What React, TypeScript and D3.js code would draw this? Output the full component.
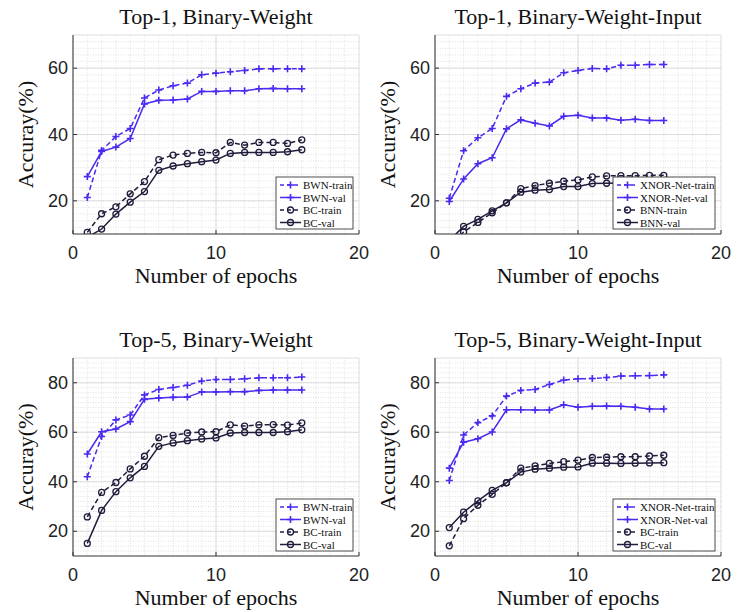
import React from 'react'
import * as d3 from 'd3'

// epochs on the x axis
const epochs = [1, 2, 3, 4, 5, 6, 7, 8, 9, 10, 11, 12, 13, 14, 15, 16]

// Top-1, Binary-Weight
const t1BwnTrain = [21.0, 35.2, 39.4, 41.8, 51.0, 53.4, 54.7, 55.5, 58.0, 58.5, 58.9, 59.3, 59.8, 59.8, 59.8, 59.8]
const t1BwnVal = [27.3, 34.9, 36.2, 38.8, 49.2, 50.3, 50.4, 50.7, 53.0, 53.0, 53.2, 53.2, 53.8, 53.9, 53.8, 53.8]
const t1BcTrain = [10.5, 16.1, 18.2, 22.1, 25.8, 32.4, 33.8, 34.3, 34.6, 34.5, 37.6, 36.8, 37.6, 37.6, 37.3, 38.4]
const t1BcVal = [9.0, 11.5, 16.0, 19.6, 22.8, 29.2, 30.5, 31.2, 31.8, 32.3, 34.3, 34.6, 34.6, 34.6, 34.8, 35.4]

// Top-1, Binary-Weight-Input
const t1XnorTrain = [20.8, 35.1, 39.0, 41.8, 51.5, 53.8, 55.5, 55.8, 58.6, 59.3, 59.9, 59.8, 60.9, 60.9, 61.1, 61.1]
const t1XnorVal = [19.8, 26.6, 31.2, 33.0, 41.7, 44.4, 43.4, 42.6, 45.5, 45.8, 45.0, 45.0, 44.3, 44.6, 44.2, 44.2]
const t1BnnTrain = [6.0, 10.6, 13.5, 16.4, 19.4, 23.7, 24.6, 25.3, 25.9, 26.3, 27.2, 27.5, 27.6, 27.6, 27.7, 27.7]
const t1BnnVal = [8.0, 12.3, 14.4, 17.0, 19.4, 22.6, 23.2, 23.4, 24.3, 24.3, 25.2, 25.3, 25.4, 25.5, 25.5, 25.5]

// Top-5, Binary-Weight
const t5BwnTrain = [42.0, 58.3, 65.0, 67.0, 75.1, 77.3, 78.1, 79.0, 80.7, 81.3, 81.3, 81.6, 82.0, 82.0, 82.0, 82.3]
const t5BwnVal = [51.2, 60.2, 61.3, 64.3, 73.3, 73.8, 74.1, 74.2, 76.3, 76.3, 76.4, 76.4, 76.9, 77.1, 77.1, 77.1]
const t5BcTrain = [25.8, 35.7, 39.7, 45.2, 50.3, 57.8, 58.7, 59.7, 60.1, 60.2, 63.0, 62.5, 63.0, 63.1, 62.9, 63.8]
const t5BcVal = [15.1, 28.4, 36.0, 41.6, 46.2, 54.3, 55.7, 56.6, 57.3, 57.7, 59.7, 59.9, 59.9, 59.9, 60.2, 61.0]

// Top-5, Binary-Weight-Input
const t5XnorTrain = [40.5, 58.9, 63.9, 66.6, 74.6, 76.9, 77.3, 79.3, 81.1, 81.6, 81.7, 82.1, 82.7, 82.8, 82.9, 83.2]
const t5XnorVal = [45.5, 56.0, 57.4, 60.1, 69.1, 69.1, 69.0, 69.0, 71.1, 70.1, 70.5, 70.6, 70.5, 70.1, 69.4, 69.4]
const t5BcBwiTrain = [14.1, 25.1, 30.5, 34.9, 39.6, 45.5, 46.4, 47.4, 48.1, 48.7, 49.8, 49.9, 50.1, 50.1, 50.4, 50.7]
const t5BcBwiVal = [21.5, 27.7, 32.3, 36.5, 39.6, 43.9, 45.1, 45.5, 45.9, 46.0, 47.5, 47.5, 47.4, 47.5, 47.6, 47.7]

const xTicks = [0, 10, 20]
const top1Ticks = [20, 40, 60]
const top5Ticks = [20, 40, 60, 80]

const BLUE = '#4a2af0'
const DARK = '#201c3c'
const SERIF = '"Liberation Serif", "Times New Roman", serif'
const SANS = '"Liberation Sans", Arial, sans-serif'

type Series = { name: string; values: number[]; color: string; dashed: boolean; marker: 'plus' | 'circle' }

const mk = (names: string[], vals: number[][]): Series[] =>
	names.map((name, i) => ({
		name,
		values: vals[i],
		color: i < 2 ? BLUE : DARK,
		dashed: i % 2 === 0,
		marker: i < 2 ? 'plus' : 'circle',
	}))

const Marker = ({ kind, x, y, color }: { kind: string; x: number; y: number; color: string }) =>
	kind === 'plus' ? (
		<path d={`M${x - 3.5},${y}H${x + 3.5}M${x},${y - 3.5}V${y + 3.5}`} stroke={color} strokeWidth={1.6} />
	) : (
		<circle cx={x} cy={y} r={3} fill="none" stroke={color} strokeWidth={1.3} />
	)

type PanelProps = {
	id: string
	title: string
	left: number
	top: number
	width: number
	height: number
	yDomain: [number, number]
	yTicks: number[]
	series: Series[]
	legendWidth: number
}

const Panel = ({ id, title, left, top, width, height, yDomain, yTicks, series, legendWidth }: PanelProps) => {
	const x = d3.scaleLinear().domain([0, 20]).range([left, left + width])
	const y = d3.scaleLinear().domain(yDomain).range([top + height, top])
	const bottom = top + height
	const right = left + width
	const minorX = d3.range(1, 20)
	const minorY = d3.range(yDomain[0] + 2, yDomain[1], 2)
	const line = d3
		.line<number>()
		.x((_, i) => x(epochs[i]))
		.y((d) => y(d))

	const lgH = 52
	const lgX = right - 6 - legendWidth
	const lgY = bottom - 5 - lgH

	return (
		<g>
			<defs>
				<clipPath id={id}>
					<rect x={left} y={top} width={width} height={height} />
				</clipPath>
			</defs>
			{/* grid */}
			{minorX.map((v) => (
				<line key={'mx' + v} x1={x(v)} x2={x(v)} y1={top} y2={bottom} stroke="#cfcfcf" strokeWidth={0.6} strokeDasharray="1,1.5" />
			))}
			{minorY.map((v) => (
				<line key={'my' + v} x1={left} x2={right} y1={y(v)} y2={y(v)} stroke="#cfcfcf" strokeWidth={0.6} strokeDasharray="1,1.5" />
			))}
			{xTicks.map((v) => (
				<line key={'gx' + v} x1={x(v)} x2={x(v)} y1={top} y2={bottom} stroke="#d6d6d6" strokeWidth={0.8} />
			))}
			{yTicks.map((v) => (
				<line key={'gy' + v} x1={left} x2={right} y1={y(v)} y2={y(v)} stroke="#d6d6d6" strokeWidth={0.8} />
			))}
			<line x1={left} x2={right} y1={top} y2={top} stroke="#d6d6d6" strokeWidth={0.8} />
			{/* axes */}
			<line x1={left} x2={left} y1={top} y2={bottom} stroke="#333" strokeWidth={1} />
			<line x1={left} x2={right} y1={bottom} y2={bottom} stroke="#333" strokeWidth={1} />
			{yTicks.map((v) => (
				<g key={'ty' + v}>
					<line x1={left} x2={left + 4} y1={y(v)} y2={y(v)} stroke="#333" />
					<text x={left - 5} y={y(v) + 6} textAnchor="end" fontFamily={SANS} fontSize={18} fill="#222">
						{v}
					</text>
				</g>
			))}
			{xTicks.map((v) => (
				<g key={'tx' + v}>
					<line x1={x(v)} x2={x(v)} y1={bottom} y2={bottom - 4} stroke="#333" />
					<text x={x(v)} y={bottom + 25} textAnchor="middle" fontFamily={SANS} fontSize={18} fill="#222">
						{v}
					</text>
				</g>
			))}
			<text x={(left + right) / 2} y={top - 11} textAnchor="middle" fontFamily={SERIF} fontSize={22} fill="#111">
				{title}
			</text>
			<text x={(left + right) / 2} y={bottom + 49} textAnchor="middle" fontFamily={SERIF} fontSize={22} fill="#111">
				Number of epochs
			</text>
			<text
				transform={`translate(${left - 40},${(top + bottom) / 2}) rotate(-90)`}
				textAnchor="middle"
				fontFamily={SERIF}
				fontSize={22}
				fill="#111"
			>
				Accuray(%)
			</text>
			{/* series */}
			<g clipPath={`url(#${id})`}>
				{series.map((s) => (
					<g key={s.name}>
						<path d={line(s.values) || ''} fill="none" stroke={s.color} strokeWidth={1.5} strokeDasharray={s.dashed ? '5,3' : undefined} />
						{s.values.map((v, i) => (
							<Marker key={i} kind={s.marker} x={x(epochs[i])} y={y(v)} color={s.color} />
						))}
					</g>
				))}
			</g>
			{/* legend */}
			<rect x={lgX} y={lgY} width={legendWidth} height={lgH} fill="white" stroke="#222" strokeWidth={0.8} />
			{series.map((s, i) => {
				const ly = lgY + 8 + i * 12.5
				return (
					<g key={'lg' + s.name}>
						<line x1={lgX + 4} x2={lgX + 25} y1={ly} y2={ly} stroke={s.color} strokeWidth={1.5} strokeDasharray={s.dashed ? '4,3' : undefined} />
						<Marker kind={s.marker} x={lgX + 14.5} y={ly} color={s.color} />
						<text x={lgX + 27} y={ly + 4} fontFamily={SERIF} fontSize={11} fill="#111">
							{s.name}
						</text>
					</g>
				)
			})}
		</g>
	)
}

const App = () => {
	const panels: PanelProps[] = [
		{
			id: 'c1',
			title: 'Top-1, Binary-Weight',
			left: 73,
			top: 35,
			width: 286,
			height: 199,
			yDomain: [10, 70],
			yTicks: top1Ticks,
			series: mk(['BWN-train', 'BWN-val', 'BC-train', 'BC-val'], [t1BwnTrain, t1BwnVal, t1BcTrain, t1BcVal]),
			legendWidth: 77,
		},
		{
			id: 'c2',
			title: 'Top-1, Binary-Weight-Input',
			left: 435,
			top: 35,
			width: 286,
			height: 199,
			yDomain: [10, 70],
			yTicks: top1Ticks,
			series: mk(['XNOR-Net-train', 'XNOR-Net-val', 'BNN-train', 'BNN-val'], [t1XnorTrain, t1XnorVal, t1BnnTrain, t1BnnVal]),
			legendWidth: 102,
		},
		{
			id: 'c3',
			title: 'Top-5, Binary-Weight',
			left: 73,
			top: 358,
			width: 286,
			height: 198,
			yDomain: [10, 90],
			yTicks: top5Ticks,
			series: mk(['BWN-train', 'BWN-val', 'BC-train', 'BC-val'], [t5BwnTrain, t5BwnVal, t5BcTrain, t5BcVal]),
			legendWidth: 77,
		},
		{
			id: 'c4',
			title: 'Top-5, Binary-Weight-Input',
			left: 435,
			top: 358,
			width: 286,
			height: 198,
			yDomain: [10, 90],
			yTicks: top5Ticks,
			series: mk(['XNOR-Net-train', 'XNOR-Net-val', 'BC-train', 'BC-val'], [t5XnorTrain, t5XnorVal, t5BcBwiTrain, t5BcBwiVal]),
			legendWidth: 102,
		},
	]
	return (
		<svg width={741} height={612} style={{ position: 'absolute', left: 0, top: 0, background: 'white' }}>
			{panels.map((p) => (
				<Panel key={p.id} {...p} />
			))}
		</svg>
	)
}

export default App
